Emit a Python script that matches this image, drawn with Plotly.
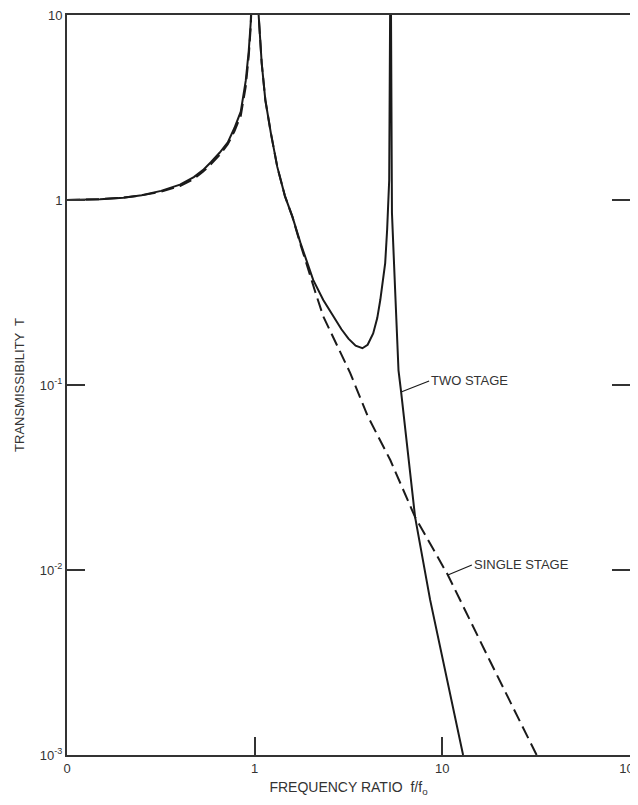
import math
import plotly.graph_objects as go

# Single-stage isolator transmissibility (dashed)
single_x = [0.1, 0.15, 0.2, 0.25, 0.317, 0.4, 0.474, 0.53, 0.584, 0.65, 0.719, 0.78,
            0.843, 0.896, 0.93, 0.952, 1.0, 1.05, 1.09, 1.14, 1.22, 1.32, 1.45, 1.59,
            1.75, 1.91, 2.1, 2.32, 2.7, 3.23, 4.0, 5.28, 7.16, 10.7, 18.0, 31.8]
single_T = [1.0, 1.01, 1.03, 1.06, 1.11, 1.19, 1.30, 1.42, 1.56, 1.75, 2.0, 2.35,
            2.85, 4.1, 6.0, 8.5, 30.0, 10.0, 5.5, 3.47, 2.3, 1.51, 1.05, 0.81,
            0.58, 0.43, 0.32, 0.235, 0.17, 0.116, 0.068, 0.0393, 0.0193, 0.0094, 0.0032, 0.001]

# Two-stage isolator transmissibility (solid)
two_x = [0.1, 0.15, 0.2, 0.25, 0.317, 0.4, 0.474, 0.53, 0.584, 0.65, 0.719, 0.78,
         0.843, 0.896, 0.93, 0.952, 1.0, 1.05, 1.09, 1.14, 1.22, 1.32, 1.45, 1.59,
         1.75, 1.91, 2.05, 2.32, 2.63, 2.9, 3.16, 3.45, 3.75, 4.0, 4.28, 4.5, 4.67,
         4.85, 4.96, 5.08, 5.15, 5.21, 5.30, 5.39, 5.6, 5.84, 6.03, 6.5, 7.16, 8.61,
         10.5, 12.9]
two_T = [1.0, 1.01, 1.03, 1.06, 1.12, 1.21, 1.33, 1.45, 1.6, 1.8, 2.05, 2.45,
         3.0, 4.4, 6.4, 9.0, 30.0, 10.0, 5.5, 3.47, 2.3, 1.51, 1.05, 0.81,
         0.59, 0.45, 0.37, 0.288, 0.235, 0.2, 0.178, 0.163, 0.158, 0.165, 0.19, 0.23, 0.288,
         0.38, 0.456, 0.69, 0.95, 1.28, 30.0, 0.85, 0.33, 0.12, 0.0917, 0.0465, 0.0193, 0.00689,
         0.00267, 0.001]

x_tickvals = [0.1, 1, 10, 100]
x_ticktext = ["0", "1", "10", "100"]
y_tickvals = [0.001, 0.01, 0.1, 1, 10]
y_ticktext = ["10<sup>-3</sup>", "10<sup>-2</sup>", "10<sup>-1</sup>", "1", "10"]

label_two = "TWO STAGE"
label_single = "SINGLE STAGE"
x_title = "FREQUENCY RATIO  f/f<sub>o</sub>"
y_title = "TRANSMISSIBILITY  T"

FONT = "Liberation Sans, Arial, sans-serif"
INK = "#1a1a1a"
GREY = "#333"

fig = go.Figure()
fig.add_trace(go.Scatter(x=single_x, y=single_T, mode="lines",
                         line=dict(color=INK, width=2, dash="13px,6px"),
                         showlegend=False, hoverinfo="skip"))
fig.add_trace(go.Scatter(x=two_x, y=two_T, mode="lines",
                         line=dict(color=INK, width=2),
                         showlegend=False, hoverinfo="skip"))

fig.add_annotation(x=math.log10(6.03), y=math.log10(0.0917), xref="x", yref="y",
                   text=label_two, showarrow=True, arrowhead=0, arrowwidth=1.2,
                   arrowcolor=INK, ax=28, ay=-11, standoff=0, xanchor="left",
                   font=dict(family=FONT, size=13, color=GREY))
fig.add_annotation(x=math.log10(10.7), y=math.log10(0.0094), xref="x", yref="y",
                   text=label_single, showarrow=True, arrowhead=0, arrowwidth=1.2,
                   arrowcolor=INK, ax=24, ay=-10, standoff=0, xanchor="left",
                   font=dict(family=FONT, size=13, color=GREY))

axis_common = dict(type="log", showgrid=False, zeroline=False, automargin=False,
                   showline=True, linecolor=GREY, linewidth=2,
                   ticks="inside", ticklen=18, tickwidth=1.5, tickcolor=GREY,
                   ticklabeloverflow="allow",
                   tickfont=dict(family=FONT, size=13, color=GREY))

fig.update_xaxes(**axis_common, range=[-1, 2], tickvals=x_tickvals, ticktext=x_ticktext,
                 mirror=True,
                 title=dict(text=x_title, font=dict(family=FONT, size=14, color=GREY),
                            standoff=16))
fig.update_yaxes(**axis_common, range=[-3, 1], tickvals=y_tickvals, ticktext=y_ticktext,
                 mirror="ticks",
                 title=dict(text=y_title, font=dict(family=FONT, size=13, color=GREY),
                            standoff=12))

# The page body adds an 8px margin, so the figure is sized to fit inside the window
fig.update_layout(width=622, height=789,
                  margin=dict(l=59, r=0, t=7, b=42),
                  paper_bgcolor="white", plot_bgcolor="white",
                  font=dict(family=FONT, color=GREY))

fig.write_html("out.html")
